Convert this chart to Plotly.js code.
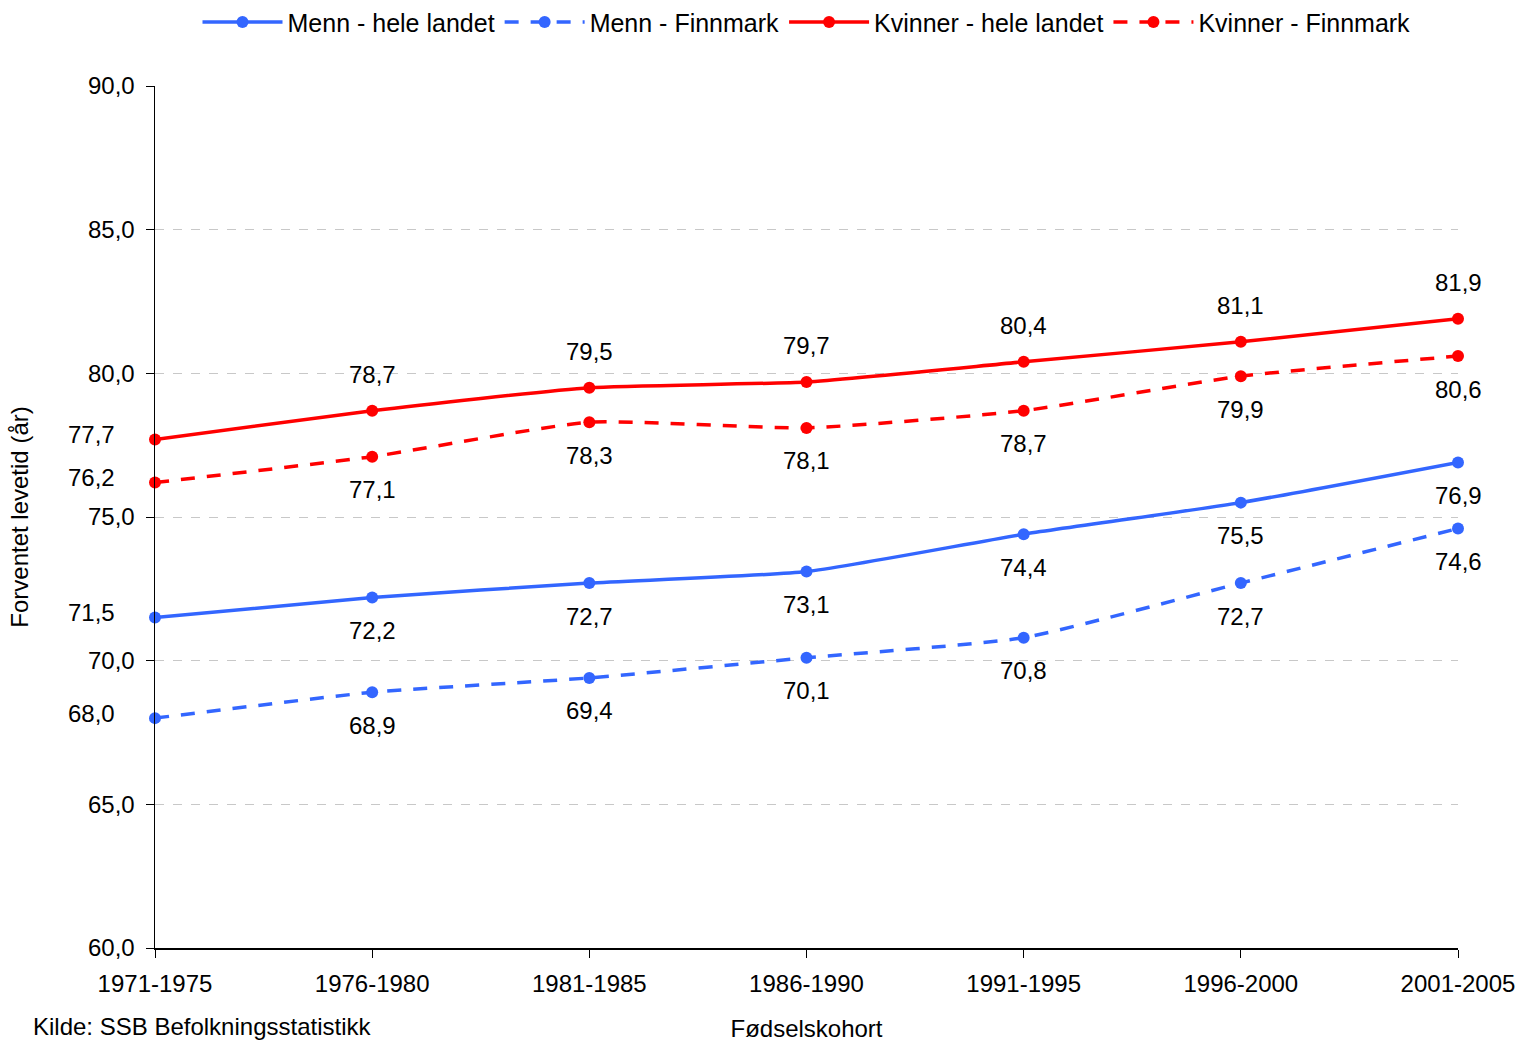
<!DOCTYPE html>
<html><head><meta charset="utf-8">
<script src="https://cdn.plot.ly/plotly-3.0.1.min.js"></script>
<style>html,body{margin:0;padding:0;background:#fff}#chart{width:1523px;height:1042px}</style>
</head><body><div id="chart"></div>
<script>
const categories = ["1971-1975","1976-1980","1981-1985","1986-1990","1991-1995","1996-2000","2001-2005"];
const mennHele = [71.5, 72.2, 72.7, 73.1, 74.4, 75.5, 76.9];
const mennFinnmark = [68.0, 68.9, 69.4, 70.1, 70.8, 72.7, 74.6];
const kvinnerHele = [77.7, 78.7, 79.5, 79.7, 80.4, 81.1, 81.9];
const kvinnerFinnmark = [76.2, 77.1, 78.3, 78.1, 78.7, 79.9, 80.6];
const yTickVals = [60, 65, 70, 75, 80, 85, 90];
const yTickText = ["60,0","65,0","70,0","75,0","80,0","85,0","90,0"];

const BLUE = "#3366FF", RED = "#FF0000";
const FONT = "Liberation Sans, Arial, sans-serif";
const FS = 24;
const fmt = v => v.toFixed(1).replace(".", ",");

function series(name, y, color, dash) {
  return {
    type: "scatter", mode: "lines+markers", name: name,
    x: categories, y: y, cliponaxis: false,
    line: {color: color, width: 3.5, dash: dash, shape: "spline", smoothing: 0.5},
    marker: {color: color, size: 12}
  };
}
const traces = [
  series("Menn - hele landet", mennHele, BLUE, "solid"),
  series("Menn - Finnmark", mennFinnmark, BLUE, "14px,12px"),
  series("Kvinner - hele landet", kvinnerHele, RED, "solid"),
  series("Kvinner - Finnmark", kvinnerFinnmark, RED, "14px,12px")
];

const annotations = [];
function labels(y, above) {
  y.forEach((v, i) => {
    if (i === 0) {
      annotations.push({x: categories[i], y: v, xref: "x", yref: "y", text: fmt(v), showarrow: false,
        xanchor: "right", yanchor: "middle", xshift: -38, yshift: 5, font: {family: FONT, size: FS, color: "#000"}});
    } else {
      annotations.push({x: categories[i], y: v, xref: "x", yref: "y", text: fmt(v), showarrow: false,
        xanchor: "center", yanchor: "middle", yshift: above ? 36 : -33, font: {family: FONT, size: FS, color: "#000"}});
    }
  });
}
labels(kvinnerHele, true);
labels(kvinnerFinnmark, false);
labels(mennHele, false);
labels(mennFinnmark, false);
annotations.push({x: 0, y: 0, xref: "paper", yref: "paper", text: "Kilde: SSB Befolkningsstatistikk",
  showarrow: false, xanchor: "left", yanchor: "middle", xshift: -124, yshift: -78,
  font: {family: FONT, size: FS, color: "#000"}});

const layout = {
  width: 1523, height: 1042,
  margin: {l: 155, r: 65, t: 86, b: 94, autoexpand: false},
  paper_bgcolor: "#fff", plot_bgcolor: "#fff",
  font: {family: FONT, size: FS, color: "#000"},
  showlegend: true,
  legend: {orientation: "h", x: 0.5, xanchor: "center", y: 1.074, yanchor: "middle",
    font: {family: FONT, size: 25, color: "#000"}, itemwidth: 80, tracegroupgap: 0},
  xaxis: {type: "category", range: [0, 6], showline: true, linecolor: "#000", linewidth: 1.5,
    ticks: "outside", ticklen: 8, tickcolor: "#000", showgrid: false, zeroline: false,
    ticklabelstandoff: 6, tickfont: {family: FONT, size: FS}, automargin: false,
    title: {text: "Fødselskohort", font: {family: FONT, size: FS}, standoff: 24}},
  yaxis: {range: [60, 90], tickvals: yTickVals, ticktext: yTickText, showline: true, linecolor: "#000", linewidth: 1.5,
    ticks: "outside", ticklen: 8, tickcolor: "#000", showgrid: true, gridcolor: "#c8c8c8", griddash: "dash", gridwidth: 1,
    zeroline: false, ticklabelstandoff: 6, tickfont: {family: FONT, size: FS}, automargin: false,
    title: {text: "Forventet levetid (år)", font: {family: FONT, size: FS}, standoff: 52}},
  annotations: annotations
};
Plotly.newPlot("chart", traces, layout, {displayModeBar: false, staticPlot: true});
</script>
</body></html>
